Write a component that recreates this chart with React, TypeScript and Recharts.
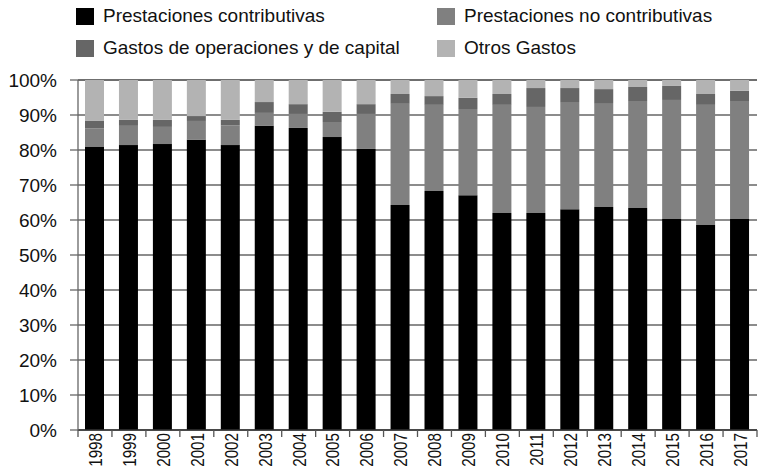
import { BarChart, Bar, XAxis, YAxis, CartesianGrid } from 'recharts'

const years = ['1998', '1999', '2000', '2001', '2002', '2003', '2004', '2005', '2006', '2007',
  '2008', '2009', '2010', '2011', '2012', '2013', '2014', '2015', '2016', '2017']

const contributivas = [81.0, 81.4, 81.7, 82.9, 81.4, 86.9, 86.3, 83.7, 80.3, 64.3,
  68.3, 67.1, 62.0, 62.0, 63.1, 63.7, 63.4, 60.3, 58.6, 60.3]
const noContributivas = [5.2, 5.5, 4.9, 5.4, 5.6, 3.7, 4.0, 4.3, 10.0, 29.1,
  24.6, 24.6, 30.9, 30.3, 30.6, 29.7, 30.6, 34.0, 34.3, 33.7]
const gastosOperaciones = [2.1, 1.7, 2.0, 1.4, 1.6, 3.1, 2.8, 2.9, 2.8, 2.6,
  2.5, 3.2, 3.1, 5.4, 4.0, 4.0, 4.0, 4.0, 3.1, 2.9]
const otrosGastos = [11.7, 11.4, 11.4, 10.3, 11.4, 6.3, 6.9, 9.1, 6.9, 4.0,
  4.6, 5.1, 4.0, 2.3, 2.3, 2.6, 2.0, 1.7, 4.0, 3.1]

const yTicks = [0, 10, 20, 30, 40, 50, 60, 70, 80, 90, 100]

// legend order: row 1 then row 2
const series = [
  { key: 'pc', name: 'Prestaciones contributivas', color: '#000000' },
  { key: 'pnc', name: 'Prestaciones no contributivas', color: '#808080' },
  { key: 'gastos', name: 'Gastos de operaciones y de capital', color: '#666666' },
  { key: 'otros', name: 'Otros Gastos', color: '#b3b3b3' },
]

const data = years.map((y, i) => ({
  year: y,
  pc: contributivas[i],
  pnc: noContributivas[i],
  gastos: gastosOperaciones[i],
  otros: otrosGastos[i],
}))

const FONT = '"Liberation Sans", Arial, sans-serif'

function XTick(props: any) {
  const { x, y, payload, index } = props
  const half = payload?.offset ?? 17
  return (
    <g>
      <line x1={x - half} x2={x - half} y1={y} y2={y + 7} stroke="#555" strokeWidth={1.3} />
      {index === years.length - 1 && (
        <line x1={x + half} x2={x + half} y1={y} y2={y + 7} stroke="#555" strokeWidth={1.3} />
      )}
      <text
        x={0}
        y={0}
        transform={`translate(${x},${y + 3}) rotate(-90) scale(0.8,1)`}
        textAnchor="end"
        dy="0.36em"
        fontFamily={FONT}
        fontSize={19}
        fill="#111"
      >
        {payload.value}
      </text>
    </g>
  )
}

function LegendBox() {
  return (
    <div style={{
      position: 'absolute', left: 76, top: 0, display: 'grid',
      gridTemplateColumns: '361px auto', fontFamily: FONT, fontSize: 19, color: '#111',
    }}>
      {series.map(s => (
        <div key={s.key} style={{ display: 'flex', alignItems: 'center', height: 32 }}>
          <span style={{ width: 18, height: 17, background: s.color, display: 'inline-block', marginRight: 9 }} />
          <span>{s.name}</span>
        </div>
      ))}
    </div>
  )
}

export default function App() {
  return (
    <div style={{ position: 'absolute', left: 0, top: 0, width: 771, height: 474, background: '#fff' }}>
      <BarChart
        width={771}
        height={474}
        data={data}
        margin={{ top: 80, right: 14, bottom: 0, left: 0 }}
        barSize={19}
      >
        <CartesianGrid vertical={false} stroke="#666" strokeWidth={1.3} />
        <XAxis
          dataKey="year"
          interval={0}
          height={44}
          tickSize={0}
          tickMargin={0}
          tickLine={false}
          axisLine={{ stroke: '#333', strokeWidth: 1.3 }}
          tick={<XTick />}
        />
        <YAxis
          domain={[0, 100]}
          ticks={yTicks}
          interval={0}
          width={78}
          tickSize={8}
          tickMargin={13}
          tickFormatter={(v) => `${v}%`}
          tick={{ fontFamily: FONT, fontSize: 19, fill: '#111' }}
          axisLine={{ stroke: '#666', strokeWidth: 1.3 }}
          tickLine={{ stroke: '#666', strokeWidth: 1.3 }}
        />
        {series.map(s => (
          <Bar key={s.key} dataKey={s.key} name={s.name} stackId="a" fill={s.color} isAnimationActive={false} />
        ))}
      </BarChart>
      <LegendBox />
    </div>
  )
}
